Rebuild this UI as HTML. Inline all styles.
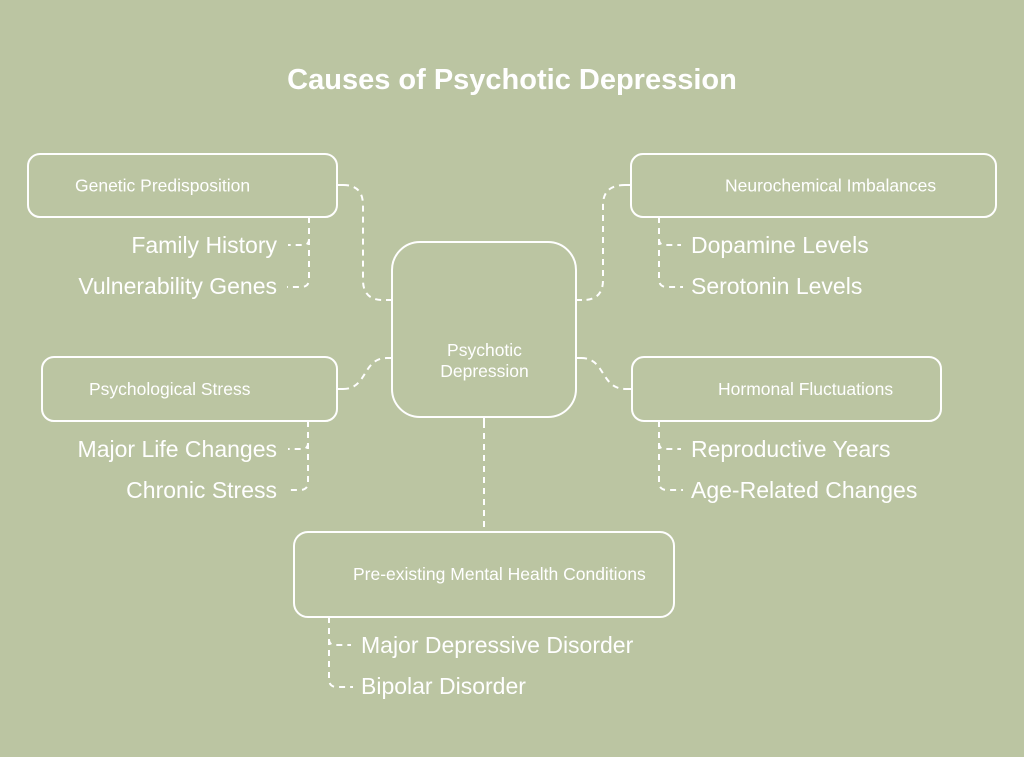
<!DOCTYPE html>
<html>
<head>
<meta charset="utf-8">
<style>
  html,body{margin:0;padding:0;background:#bbc5a2;}
  body{width:1024px;height:757px;overflow:hidden;}
  svg{display:block;}
  text{font-family:"Liberation Sans", Arial, sans-serif;fill:#ffffff;}
</style>
</head>
<body>
<svg width="1024" height="757" viewBox="0 0 1024 757" xmlns="http://www.w3.org/2000/svg">
  <rect x="0" y="0" width="1024" height="757" fill="#bbc5a2"/>

  <!-- Title -->
  <text x="512" y="89" font-size="29" font-weight="bold" text-anchor="middle">Causes of Psychotic Depression</text>

  <!-- Boxes -->
  <g fill="none" stroke="#ffffff" stroke-width="2">
    <rect x="28" y="154" width="309" height="63" rx="12"/>
    <rect x="631" y="154" width="365" height="63" rx="12"/>
    <rect x="42" y="357" width="295" height="64" rx="12"/>
    <rect x="632" y="357" width="309" height="64" rx="12"/>
    <rect x="294" y="532" width="380" height="85" rx="14"/>
    <rect x="392" y="242" width="184" height="175" rx="28"/>
  </g>

  <!-- Dashed connectors -->
  <g fill="none" stroke="#ffffff" stroke-width="2" stroke-dasharray="6 5">
    <!-- main connectors -->
    <path d="M343,185 Q363,185 363,205 V280 Q363,300 383,300 H387"/>
    <path d="M625,185 Q603,185 603,205 V280 Q603,300 583,300 H581"/>
    <path d="M343,389 C368,389 362,358 387,358"/>
    <path d="M581,358 C606,358 600,389 626,389"/>
    <path d="M484,422 V532"/>

    <!-- Genetic children -->
    <path d="M309,217 V239 Q309,245 303,245 H288"/>
    <path d="M309,217 V279 Q309,287 301,287 H287"/>
    <!-- Neurochemical children -->
    <path d="M659,217 V239 Q659,245 665,245 H681"/>
    <path d="M659,217 V279 Q659,287 667,287 H683"/>
    <!-- Psychological stress children -->
    <path d="M308,421 V443 Q308,449 302,449 H288"/>
    <path d="M308,421 V482 Q308,490 300,490 H287"/>
    <!-- Hormonal children -->
    <path d="M659,421 V443 Q659,449 665,449 H681"/>
    <path d="M659,421 V482 Q659,490 667,490 H683"/>
    <!-- Pre-existing children -->
    <path d="M329,617 V639 Q329,645 335,645 H351"/>
    <path d="M329,617 V679 Q329,687 337,687 H353"/>
  </g>

  <!-- Solid stubs at connection points -->
  <g stroke="#ffffff" stroke-width="2">
    <line x1="337" y1="185" x2="343" y2="185"/>
    <line x1="386" y1="300" x2="392" y2="300"/>
    <line x1="625" y1="185" x2="631" y2="185"/>
    <line x1="576" y1="300" x2="582" y2="300"/>
    <line x1="337" y1="389" x2="343" y2="389"/>
    <line x1="386" y1="358" x2="392" y2="358"/>
    <line x1="576" y1="358" x2="582" y2="358"/>
    <line x1="626" y1="389" x2="632" y2="389"/>
    <line x1="484" y1="417" x2="484" y2="422"/>
  </g>

  <!-- Box labels -->
  <g font-size="17.5">
    <text x="75" y="191.5">Genetic Predisposition</text>
    <text x="725" y="191.5">Neurochemical Imbalances</text>
    <text x="89" y="395">Psychological Stress</text>
    <text x="718" y="395">Hormonal Fluctuations</text>
    <text x="353" y="580">Pre-existing Mental Health Conditions</text>
    <text x="484.5" y="356" text-anchor="middle">Psychotic</text>
    <text x="484.5" y="377" text-anchor="middle">Depression</text>
  </g>

  <!-- Child labels -->
  <g font-size="23">
    <text x="277" y="253" text-anchor="end">Family History</text>
    <text x="277" y="294" text-anchor="end">Vulnerability Genes</text>
    <text x="691" y="253">Dopamine Levels</text>
    <text x="691" y="294">Serotonin Levels</text>
    <text x="277" y="457" text-anchor="end">Major Life Changes</text>
    <text x="277" y="498" text-anchor="end">Chronic Stress</text>
    <text x="691" y="457">Reproductive Years</text>
    <text x="691" y="498">Age-Related Changes</text>
    <text x="361" y="653">Major Depressive Disorder</text>
    <text x="361" y="694">Bipolar Disorder</text>
  </g>
</svg>
</body>
</html>
